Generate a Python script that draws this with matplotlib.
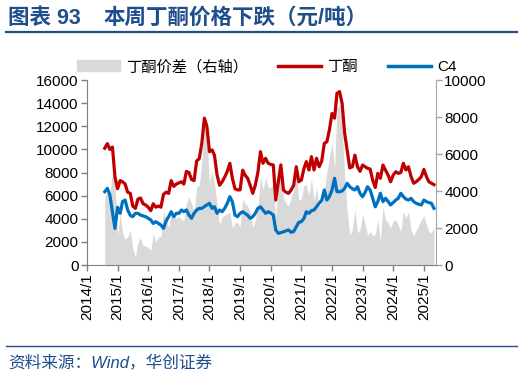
import numpy as np
import pandas as pd
import matplotlib
matplotlib.use("Agg")
import matplotlib.pyplot as plt
from matplotlib.patches import Patch
from matplotlib.lines import Line2D

plt.rcParams['font.family'] = ['Liberation Sans', 'Noto Sans CJK SC']

# monthly readings, 2014/8 .. 2025/5
mek = [10100, 10500, 10000, 10200, 7600,
       6600, 7300, 7200, 7000, 6300, 6200, 5100, 4900, 5700, 5800, 5300, 5200,
       5000, 4700, 5300, 5000, 5100, 5000, 6100, 6300, 6200, 7300, 6800, 7000,
       7100, 7200, 7000, 8100, 8000, 7400, 7300, 9000, 9200, 10500, 12700, 12000,
       9800, 9950, 9500, 7800, 6900, 7200, 7600, 8100, 8800, 7500, 6600, 6500,
       6500, 8200, 7780, 7500, 6900, 6200, 6900, 8000, 9800, 8800, 9230, 8800,
       8700, 8650, 5620, 7200, 8650, 6490, 6300, 6200, 6490, 6900, 8500, 7200,
       7350, 8360, 8940, 8220, 9370, 8220, 9230, 8500, 9000, 10520, 10660, 11680,
       13100, 12700, 14850, 15000, 14000, 11400, 9950, 8400, 8500, 9500, 8500, 8100,
       8650, 8500, 8360, 8300, 7350, 6700, 7930, 7500, 8650, 8200, 7780, 7200,
       7780, 8070, 7930, 8000, 8800, 8220, 8500, 7640, 7070, 7200, 7400, 7640,
       8270, 7640, 7200, 7070, 6950]

c4 = [6340, 6630, 6050, 4610, 3170,
      5000, 4470, 5480, 5620, 4760, 4300, 4180, 4470, 4470, 4320, 4250, 4180,
      4040, 3900, 3600, 3750, 3600, 3460, 3170, 3800, 4180, 4610, 4180, 4470,
      4470, 4760, 4610, 4760, 4320, 4040, 4470, 4760, 4900, 4900, 5050, 5200,
      5330, 4900, 5050, 4470, 4760, 4610, 4900, 5330, 5910, 5480, 4320, 4180,
      4470, 4610, 4470, 4300, 4040, 4180, 4470, 4900, 5040, 4760, 4470, 4610,
      4500, 4320, 3030, 2740, 2800, 2880, 2950, 3030, 2830, 2900, 3310, 3700,
      3750, 4040, 4610, 4470, 4700, 4760, 5040, 5340, 5600, 6490, 5620, 5910,
      6490, 7500, 6340, 6340, 6400, 6630, 7070, 6770, 6600, 6490, 6770, 6200,
      5910, 6300, 6770, 6490, 5770, 5040, 5480, 6200, 5480, 5770, 5500, 5190,
      5400, 5620, 5770, 6200, 5910, 5700, 5620, 5770, 5480, 5340, 5250, 5190,
      5620, 5480, 5400, 5340, 4900]

spread = [3760, 3870, 3950, 5000, 4430,
          1600, 2830, 1720, 1380, 1540, 1900, 920, 430, 1230, 1480, 1050, 1020,
          960, 800, 1700, 1250, 1500, 1540, 2930, 2500, 2020, 2690, 2620, 2530,
          2630, 2440, 2390, 3340, 3680, 3360, 2830, 4240, 4300, 5600, 7650, 6800,
          4470, 5050, 4450, 3330, 2140, 2590, 2700, 2770, 2890, 2020, 2280, 2320,
          2030, 3590, 3310, 3200, 2860, 2020, 2430, 3100, 4760, 4040, 4760, 4190,
          4200, 4330, 2590, 4460, 5850, 3610, 3350, 3170, 3660, 4000, 5190, 3500,
          3600, 4320, 4330, 3750, 4670, 3460, 4190, 3160, 3400, 4030, 5040, 5770,
          6610, 5200, 8510, 8660, 7600, 4770, 2880, 1630, 1900, 3010, 1730, 1900,
          2740, 2200, 1590, 1810, 1580, 1660, 2450, 1300, 3170, 2430, 2280, 2010,
          2380, 2450, 2160, 1800, 2890, 2520, 2880, 1870, 1590, 1860, 2150, 2450,
          2650, 2160, 1800, 1730, 2050]

dates = pd.date_range('2014-08-01', periods=len(mek), freq='MS')
tick_years = list(range(2014, 2026))

red = '#C00000'
blue = '#0070C0'
gray = '#D9D9D9'
navy = '#1F4E8C'

fig = plt.figure(figsize=(5.23, 3.78), dpi=100)
ax = fig.add_axes([0.1663, 0.2989, 0.6673, 0.4894])
ax2 = ax.twinx()

ax2.fill_between(dates, 0, spread, color=gray, lw=0)
ax.plot(dates, mek, color=red, lw=2.3)
ax.plot(dates, c4, color=blue, lw=2.3)

# lines over the right-axis fill
ax.set_zorder(ax2.get_zorder() + 1)
ax.patch.set_visible(False)

ax.set_ylim(0, 16000)
ax.set_yticks(np.arange(0, 16001, 2000))
ax2.set_ylim(0, 10000)
ax2.set_yticks(np.arange(0, 10001, 2000))
ax.set_xlim(pd.Timestamp('2014-01-01'), pd.Timestamp('2025-05-25'))
ticks = [pd.Timestamp(f'{y}-01-01') for y in tick_years]
ax.set_xticks(ticks)
ax.set_xticklabels([f'{y}/1' for y in tick_years], rotation=90)

for a in (ax, ax2):
    a.spines['top'].set_visible(False)
    a.tick_params(labelsize=11, length=4, width=1, color='#7F7F7F', pad=2)
ax.spines['left'].set_color('#7F7F7F')
ax.spines['bottom'].set_color('#7F7F7F')
ax.spines['right'].set_visible(False)
ax2.spines['left'].set_visible(False)
ax2.spines['bottom'].set_visible(False)
ax2.spines['right'].set_color('#A6A6A6')
ax2.tick_params(color='#A6A6A6')

handles = [Patch(color=gray), Line2D([], [], color=red, lw=2.5),
           Line2D([], [], color=blue, lw=2.5)]
fig.legend(handles, ['丁酮价差（右轴）', '丁酮', 'C4'], ncol=3, frameon=False,
           loc='center', bbox_to_anchor=(0.51, 0.823), fontsize=11,
           handlelength=2.8, columnspacing=2.0, handletextpad=0.4)

fig.text(0.015, 0.952, '图表 93', fontsize=15.5, fontweight='bold', color=navy,
         va='center')
fig.text(0.197, 0.952, '本周丁酮价格下跌（元/吨）', fontsize=15.5, fontweight='bold',
         color=navy, va='center')
fig.add_artist(Line2D([0.012, 0.988], [0.915, 0.915], color=navy, lw=1.6))
fig.add_artist(Line2D([0.012, 0.988], [0.085, 0.085], color=navy, lw=1.0))
fig.text(0.015, 0.042, '资料来源：Wind，华创证券', fontsize=12, color=navy,
         va='center', style='italic')

fig.savefig('out.png', dpi=100)
